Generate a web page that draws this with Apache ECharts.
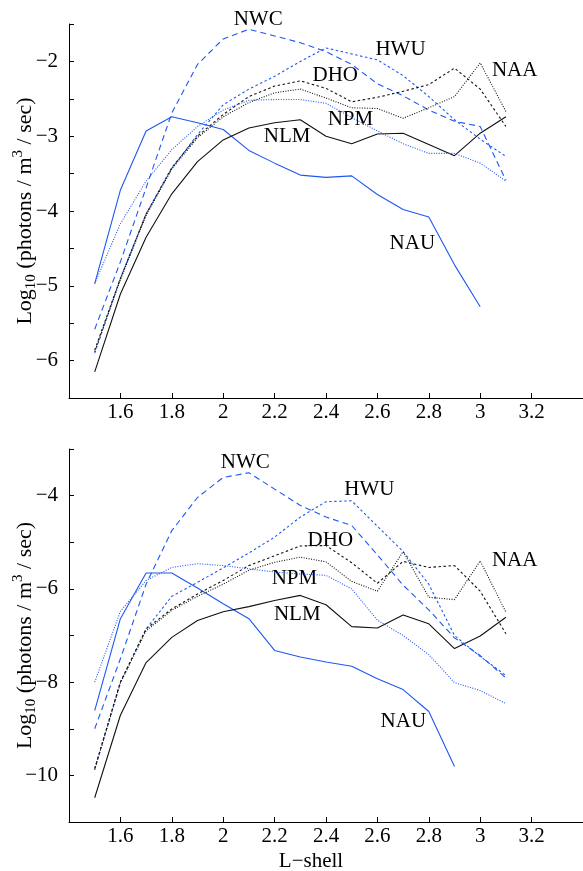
<!DOCTYPE html>
<html>
<head>
<meta charset="utf-8">
<script src="https://cdn.jsdelivr.net/npm/echarts@6/dist/echarts.min.js"></script>
<style>
  html, body { margin: 0; padding: 0; background: #fff; }
  #chart { width: 583px; height: 871px; }
</style>
</head>
<body>
<div id="chart"></div>
<script>
// L-shell values (x)
const lShell = [1.5, 1.6, 1.7, 1.8, 1.9, 2.0, 2.1, 2.2, 2.3, 2.4, 2.5, 2.6, 2.7, 2.8, 2.9, 3.0, 3.1];

// top panel
const nauTop = [-4.97, -3.72, -2.93, -2.74, -2.82, -2.91, -3.19, -3.36, -3.52, -3.55, -3.53, -3.78, -3.98, -4.08, -4.72, -5.28, null];
const nlmTop = [-6.15, -5.11, -4.35, -3.77, -3.34, -3.05, -2.89, -2.82, -2.78, -3.0, -3.1, -2.97, -2.96, -3.11, -3.26, -2.96, -2.74];
const nwcTop = [-5.58, -4.68, -3.69, -2.69, -2.04, -1.7, -1.57, -1.66, -1.75, -1.87, -2.04, -2.3, -2.46, -2.65, -2.8, -2.87, -3.59];
const hwuTop = [-5.9, -4.9, -4.04, -3.43, -2.98, -2.58, -2.37, -2.2, -2.0, -1.82, -1.9, -1.98, -2.19, -2.47, -2.78, -3.04, -3.27];
const dhoTop = [-5.86, -4.9, -4.04, -3.42, -3.0, -2.71, -2.47, -2.33, -2.26, -2.36, -2.54, -2.48, -2.4, -2.31, -2.09, -2.37, -2.87];
const naaTop = [-5.88, -4.92, -4.06, -3.44, -3.02, -2.74, -2.55, -2.42, -2.37, -2.49, -2.62, -2.63, -2.76, -2.62, -2.47, -2.02, -2.67];
const npmTop = [-4.97, -4.17, -3.6, -3.18, -2.87, -2.65, -2.52, -2.51, -2.51, -2.56, -2.75, -2.93, -3.1, -3.23, -3.23, -3.36, -3.6];

// bottom panel
const nauBot = [-8.61, -6.64, -5.66, -5.66, -5.98, -6.32, -6.64, -7.32, -7.46, -7.57, -7.66, -7.93, -8.16, -8.63, -9.81, null, null];
const nlmBot = [-10.48, -8.71, -7.58, -7.04, -6.68, -6.49, -6.38, -6.25, -6.14, -6.34, -6.81, -6.84, -6.56, -6.75, -7.28, -7.01, -6.61];
const nwcBot = [-9.0, -7.5, -5.9, -4.75, -4.04, -3.61, -3.51, -3.86, -4.21, -4.46, -4.64, -5.27, -5.92, -6.45, -7.05, -7.43, -7.91];
const hwuBot = [-9.85, -8.0, -6.86, -6.16, -5.86, -5.55, -5.23, -4.89, -4.46, -4.13, -4.11, -4.66, -5.2, -5.9, -7.0, -7.45, -7.86];
const dhoBot = [-9.86, -8.0, -6.86, -6.43, -6.11, -5.82, -5.5, -5.29, -5.08, -5.07, -5.44, -5.88, -5.41, -5.54, -5.5, -6.05, -6.96];
const naaBot = [-9.88, -8.02, -6.9, -6.46, -6.16, -5.9, -5.6, -5.43, -5.32, -5.42, -5.84, -6.05, -5.2, -6.18, -6.23, -5.4, -6.5];
const npmBot = [-8.0, -6.48, -5.82, -5.54, -5.46, -5.5, -5.57, -5.64, -5.68, -5.71, -6.0, -6.67, -7.0, -7.41, -8.01, -8.18, -8.46];

// station labels, placed in data coordinates [L, value]
const stationNames = ['NWC', 'HWU', 'DHO', 'NAA', 'NPM', 'NLM', 'NAU'];
const labelPosTop = [[2.136, -1.44], [2.69, -1.84], [2.436, -2.19], [3.134, -2.12], [2.495, -2.77], [2.249, -3.0], [2.736, -4.44]];
const labelPosBot = [[2.086, -3.29], [2.569, -3.87], [2.417, -4.96], [3.134, -5.39], [2.277, -5.78], [2.288, -6.55], [2.701, -8.84]];

const BLUE = '#1e58f2';
const BLACK = '#111';
const FONT = '"Liberation Serif", "Times New Roman", serif';

const styles = {
  NAU: { color: BLUE, type: 'solid' },
  NWC: { color: BLUE, type: [6, 4] },
  HWU: { color: BLUE, type: [2.5, 2.5] },
  NPM: { color: BLUE, type: [1, 1.5] },
  NLM: { color: BLACK, type: 'solid' },
  DHO: { color: BLACK, type: [2.5, 2.5] },
  NAA: { color: BLACK, type: [1, 1.5] }
};

const topSets = { NAU: nauTop, NLM: nlmTop, NWC: nwcTop, HWU: hwuTop, DHO: dhoTop, NAA: naaTop, NPM: npmTop };
const botSets = { NAU: nauBot, NLM: nlmBot, NWC: nwcBot, HWU: hwuBot, DHO: dhoBot, NAA: naaBot, NPM: npmBot };

function pairs(vals) {
  return lShell.map((l, i) => [l, vals[i]]);
}

function makeSeries(sets, idx) {
  return Object.keys(sets).map(name => ({
    name: name + idx,
    type: 'line',
    xAxisIndex: idx,
    yAxisIndex: idx,
    data: pairs(sets[name]),
    symbol: 'none',
    connectNulls: false,
    lineStyle: { color: styles[name].color, width: 1.1, type: styles[name].type },
    emphasis: { disabled: true }
  }));
}

function near(a, b) { return Math.abs(a - b) < 1e-6; }

function xAxisCfg(idx) {
  return {
    type: 'value', gridIndex: idx, min: 1.4, max: 3.4, interval: 0.2,
    axisLine: { lineStyle: { color: '#000', width: 1 } },
    axisTick: { inside: true, length: 5, lineStyle: { color: '#000' } },
    axisLabel: {
      margin: 4, fontSize: 21, fontFamily: FONT, color: '#000',
      formatter: v => (near(v, 1.4) || near(v, 3.4)) ? '' : String(+v.toFixed(1))
    },
    splitLine: { show: false }
  };
}

const yName = '{t|Log}{s|10}{t| (photons / m}{p|3}{t| / sec)}';
const yNameStyle = {
  fontFamily: FONT, fontSize: 22, color: '#000',
  rich: {
    t: { fontFamily: FONT, fontSize: 22, lineHeight: 28, color: '#000' },
    s: { fontFamily: FONT, fontSize: 15, lineHeight: 14, verticalAlign: 'bottom', color: '#000' },
    p: { fontFamily: FONT, fontSize: 15, lineHeight: 14, verticalAlign: 'top', color: '#000' }
  }
};

function yAxisCfg(idx, min, max, interval, step) {
  return {
    type: 'value', gridIndex: idx, min: min, max: max, interval: interval,
    name: yName, nameLocation: 'middle', nameGap: 30, nameMoveOverlap: false, nameTextStyle: yNameStyle,
    axisLine: { show: true, lineStyle: { color: '#000', width: 1 } },
    axisTick: { show: true, inside: true, length: 5, lineStyle: { color: '#000' } },
    axisLabel: {
      margin: 11, fontSize: 21, fontFamily: FONT, color: '#000',
      formatter: v => {
        const r = Math.round(v);
        if (!near(v, r) || r % step !== 0) return '';
        return r < 0 ? '\u2212' + Math.abs(r) : String(r);
      }
    },
    splitLine: { show: false }
  };
}

const chart = echarts.init(document.getElementById('chart'));
chart.setOption({
  animation: false,
  backgroundColor: '#fff',
  grid: [
    { left: 69, top: 24, width: 514, height: 374, outerBoundsMode: 'none' },
    { left: 69, top: 449, width: 514, height: 373, outerBoundsMode: 'none' }
  ],
  xAxis: [xAxisCfg(0), xAxisCfg(1)],
  yAxis: [yAxisCfg(0, -6.5, -1.5, 0.5, 1), yAxisCfg(1, -11, -3, 1, 2)],
  series: makeSeries(topSets, 0).concat(makeSeries(botSets, 1))
});

// station name labels + x-axis title
const graphics = [];
[labelPosTop, labelPosBot].forEach((posList, g) => {
  posList.forEach((p, i) => {
    const px = chart.convertToPixel({ gridIndex: g }, p);
    graphics.push({
      type: 'text', x: px[0], y: px[1],
      style: { text: stationNames[i], font: '21px ' + FONT, fill: '#000', textAlign: 'center', textVerticalAlign: 'middle' }
    });
  });
});
graphics.push({
  type: 'text', x: 311, y: 861,
  style: { text: 'L\u2212shell', font: '21px ' + FONT, fill: '#000', textAlign: 'center', textVerticalAlign: 'middle' }
});
chart.setOption({ graphic: graphics });
</script>
</body>
</html>
